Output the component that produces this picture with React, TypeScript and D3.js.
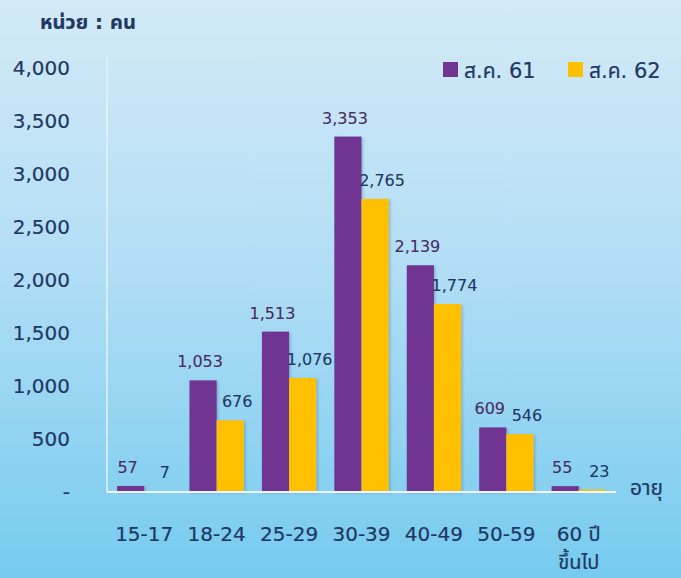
import React, { useEffect, useRef } from 'react';
import * as d3 from 'd3';

// age groups (x categories)
const ageGroups = ['15-17', '18-24', '25-29', '30-39', '40-49', '50-59', '60 ปี|ขึ้นไป'];
const seriesNames = ['ส.ค. 61', 'ส.ค. 62'];
const aug61 = [57, 1053, 1513, 3353, 2139, 609, 55];
const aug62 = [7, 676, 1076, 2765, 1774, 546, 23];
const yTicks = [0, 500, 1000, 1500, 2000, 2500, 3000, 3500, 4000];

const W = 681;
const H = 578;
const FONT = '"DejaVu Sans", "Noto Sans Thai", "Noto Sans", sans-serif';
const NAVY = '#1f3864';
const colors = ['#703593', '#ffc000'];
const labelColors = ['#4a2c62', NAVY];
const labelShift = [-3, 7];

export default function App() {
  const ref = useRef<SVGSVGElement>(null);

  useEffect(() => {
    const svg = d3.select(ref.current);
    svg.selectAll('*').remove();

    const defs = svg.append('defs');
    const grad = defs.append('linearGradient')
      .attr('id', 'bg').attr('x1', 0).attr('y1', 0).attr('x2', 0).attr('y2', 1);
    grad.append('stop').attr('offset', '0%').attr('stop-color', '#d3eaf7');
    grad.append('stop').attr('offset', '45%').attr('stop-color', '#b3def5');
    grad.append('stop').attr('offset', '100%').attr('stop-color', '#76cbef');

    const shadow = defs.append('filter').attr('id', 'shadow')
      .attr('x', '-20%').attr('y', '-20%').attr('width', '140%').attr('height', '140%');
    shadow.append('feDropShadow')
      .attr('dx', 1.5).attr('dy', 1).attr('stdDeviation', 1)
      .attr('flood-color', '#2a4a70').attr('flood-opacity', 0.3);

    svg.append('rect').attr('width', W).attr('height', H).attr('fill', 'url(#bg)');

    const x0 = d3.scaleBand<string>()
      .domain(ageGroups)
      .range([108, 615])
      .paddingInner(0.25)
      .paddingOuter(0.125);
    const x1 = d3.scaleBand<number>()
      .domain([0, 1])
      .range([0, x0.bandwidth()]);
    const y = d3.scaleLinear().domain([0, 4000]).range([492, 68]);

    const txt = (sel: any, size: number, fill = NAVY) =>
      sel.attr('fill', fill)
        .attr('font-size', size)
        .attr('font-family', FONT)
        .attr('stroke', fill)
        .attr('stroke-width', 0.2);

    // y axis line
    svg.append('line')
      .attr('x1', 107).attr('x2', 107).attr('y1', 57).attr('y2', y(0))
      .attr('stroke', '#e6f2fa').attr('stroke-width', 1.5);

    // y tick labels
    svg.append('g').selectAll('text')
      .data(yTicks)
      .enter()
      .append('text')
      .attr('x', 70)
      .attr('y', d => y(d))
      .attr('dy', '0.36em')
      .attr('text-anchor', 'end')
      .call(txt, 20)
      .text(d => (d === 0 ? '-' : d3.format(',')(d)));

    const series = [aug61, aug62];
    const groups = svg.append('g').selectAll('g')
      .data(ageGroups)
      .enter()
      .append('g')
      .attr('transform', d => `translate(${x0(d)},0)`);

    groups.selectAll('rect')
      .data((d, i) => series.map((s, k) => ({ k, v: s[i] })))
      .enter()
      .append('rect')
      .attr('x', d => x1(d.k)!)
      .attr('width', x1.bandwidth())
      .attr('y', d => y(d.v))
      .attr('height', d => y(0) - y(d.v))
      .attr('fill', d => colors[d.k])
      .attr('filter', 'url(#shadow)');

    groups.selectAll('text')
      .data((d, i) => series.map((s, k) => ({ k, v: s[i] })))
      .enter()
      .append('text')
      .attr('x', d => x1(d.k)! + x1.bandwidth() / 2 + labelShift[d.k])
      .attr('y', d => y(d.v) - 13)
      .attr('text-anchor', 'middle')
      .each(function (d) {
        txt(d3.select(this), 16, labelColors[d.k]);
      })
      .attr('stroke-width', 0.1)
      .text(d => d3.format(',')(d.v));

    // baseline
    svg.append('line')
      .attr('x1', 107).attr('x2', 616).attr('y1', y(0)).attr('y2', y(0))
      .attr('stroke', '#eef6fb').attr('stroke-width', 2);

    // x labels
    const xl = svg.append('g').selectAll('text')
      .data(ageGroups)
      .enter()
      .append('text')
      .attr('x', d => x0(d)! + x0.bandwidth() / 2)
      .attr('y', 541)
      .attr('text-anchor', 'middle')
      .call(txt, 20);
    xl.selectAll('tspan')
      .data(d => d.split('|'))
      .enter()
      .append('tspan')
      .attr('x', function () {
        const p = (this as SVGTSpanElement).parentNode as SVGTextElement;
        return p.getAttribute('x');
      })
      .attr('dy', (d, i) => (i === 0 ? 0 : 28))
      .text(d => d);

    svg.append('text')
      .attr('x', 630).attr('y', 495)
      .call(txt, 21)
      .text('อายุ');

    svg.append('text')
      .attr('x', 40).attr('y', 29)
      .call(txt, 20)
      .attr('font-weight', 'bold')
      .text('หน่วย : คน');

    // legend
    const legendX = [443, 568];
    const lg = svg.append('g').selectAll('g')
      .data(seriesNames)
      .enter()
      .append('g')
      .attr('transform', (d, i) => `translate(${legendX[i]},62)`);
    lg.append('rect')
      .attr('width', 15).attr('height', 15)
      .attr('fill', (d, i) => colors[i]);
    lg.append('text')
      .attr('x', 21).attr('y', 8)
      .attr('dy', '0.36em')
      .call(txt, 21)
      .text(d => d);
  }, []);

  return (
    <svg
      ref={ref}
      width={W}
      height={H}
      style={{ position: 'absolute', left: 0, top: 0 }}
    />
  );
}
